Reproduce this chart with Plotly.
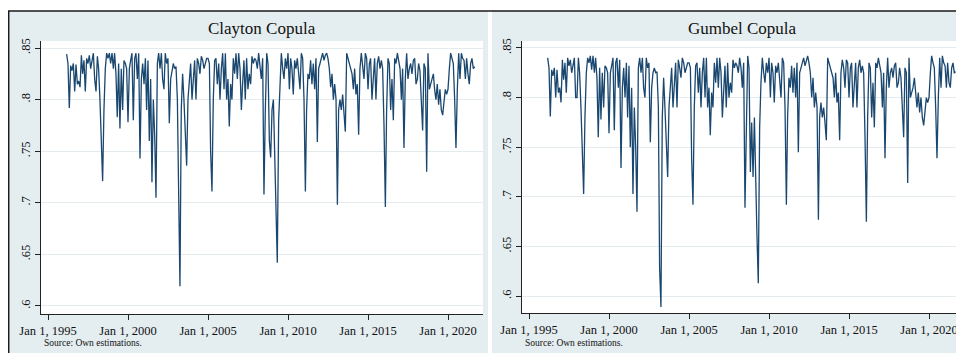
import plotly.graph_objects as go
import pandas as pd

# ---------------- data (monthly) ----------------
start_month = "1996-03-01"

clayton = [
    0.844, 0.835, 0.792, 0.833, 0.828, 0.835, 0.808, 0.834, 0.815, 0.818,                # 1996 (Mar-Dec)
    0.812, 0.843, 0.825, 0.838, 0.808, 0.840, 0.835, 0.843, 0.830, 0.838, 0.845, 0.820,  # 1997
    0.808, 0.842, 0.830, 0.800, 0.760, 0.721, 0.790, 0.830, 0.845, 0.840, 0.845, 0.835,  # 1998
    0.845, 0.830, 0.845, 0.825, 0.783, 0.835, 0.772, 0.830, 0.790, 0.838, 0.835, 0.830,  # 1999
    0.778, 0.830, 0.838, 0.845, 0.780, 0.840, 0.845, 0.820, 0.845, 0.743, 0.820, 0.835,  # 2000
    0.815, 0.840, 0.790, 0.838, 0.760, 0.820, 0.720, 0.800, 0.765, 0.705, 0.835, 0.845,  # 2001
    0.830, 0.845, 0.820, 0.810, 0.845, 0.835, 0.840, 0.777, 0.820, 0.830, 0.835, 0.830,  # 2002
    0.832, 0.800, 0.680, 0.619, 0.790, 0.825, 0.800, 0.760, 0.736, 0.800, 0.820, 0.835,  # 2003
    0.800, 0.820, 0.838, 0.800, 0.840, 0.835, 0.825, 0.842, 0.838, 0.830, 0.835, 0.840,  # 2004
    0.840, 0.835, 0.750, 0.711, 0.800, 0.838, 0.840, 0.815, 0.835, 0.800, 0.830, 0.845,  # 2005
    0.810, 0.845, 0.800, 0.820, 0.774, 0.815, 0.800, 0.840, 0.825, 0.845, 0.820, 0.845,  # 2006
    0.830, 0.790, 0.815, 0.838, 0.800, 0.840, 0.810, 0.825, 0.815, 0.842, 0.835, 0.840,  # 2007
    0.838, 0.830, 0.845, 0.835, 0.820, 0.840, 0.708, 0.790, 0.845, 0.835, 0.760, 0.744,  # 2008
    0.790, 0.800, 0.740, 0.690, 0.642, 0.780, 0.820, 0.845, 0.830, 0.820, 0.840, 0.830,  # 2009
    0.845, 0.810, 0.840, 0.830, 0.805, 0.838, 0.830, 0.840, 0.825, 0.810, 0.845, 0.840,  # 2010
    0.800, 0.711, 0.790, 0.825, 0.820, 0.838, 0.815, 0.835, 0.810, 0.840, 0.759, 0.830,  # 2011
    0.835, 0.840, 0.845, 0.838, 0.843, 0.845, 0.840, 0.830, 0.812, 0.825, 0.800, 0.815,  # 2012
    0.800, 0.698, 0.790, 0.800, 0.790, 0.805, 0.785, 0.769, 0.845, 0.840, 0.835, 0.830,  # 2013
    0.825, 0.810, 0.830, 0.805, 0.815, 0.766, 0.830, 0.845, 0.835, 0.820, 0.845, 0.840,  # 2014
    0.810, 0.835, 0.840, 0.800, 0.820, 0.840, 0.800, 0.835, 0.842, 0.830, 0.838, 0.830,  # 2015
    0.775, 0.696, 0.790, 0.840, 0.835, 0.790, 0.820, 0.780, 0.840, 0.835, 0.845, 0.838,  # 2016
    0.830, 0.800, 0.830, 0.753, 0.820, 0.845, 0.820, 0.830, 0.835, 0.825, 0.838, 0.840,  # 2017
    0.815, 0.820, 0.835, 0.828, 0.800, 0.770, 0.835, 0.830, 0.730, 0.845, 0.810, 0.815,  # 2018
    0.818, 0.825, 0.810, 0.800, 0.815, 0.795, 0.810, 0.790, 0.785, 0.800, 0.810, 0.805,  # 2019
    0.810, 0.830, 0.845, 0.840, 0.835, 0.800, 0.753, 0.810, 0.845, 0.820, 0.845, 0.840,  # 2020
    0.838, 0.820, 0.840, 0.825, 0.815, 0.835, 0.840, 0.830, 0.832,                       # 2021 (Jan-Sep)
]

gumbel = [
    0.840, 0.830, 0.781, 0.828, 0.822, 0.830, 0.800, 0.828, 0.805, 0.810,                # 1996 (Mar-Dec)
    0.795, 0.838, 0.818, 0.835, 0.805, 0.840, 0.832, 0.838, 0.825, 0.835, 0.840, 0.800,  # 1997
    0.800, 0.840, 0.825, 0.790, 0.750, 0.703, 0.780, 0.825, 0.840, 0.835, 0.842, 0.828,  # 1998
    0.842, 0.825, 0.840, 0.820, 0.760, 0.830, 0.778, 0.825, 0.790, 0.832, 0.830, 0.825,  # 1999
    0.764, 0.825, 0.832, 0.840, 0.767, 0.835, 0.840, 0.810, 0.838, 0.729, 0.810, 0.830,  # 2000
    0.800, 0.835, 0.780, 0.832, 0.750, 0.810, 0.703, 0.790, 0.750, 0.685, 0.830, 0.840,  # 2001
    0.825, 0.840, 0.810, 0.800, 0.840, 0.830, 0.835, 0.755, 0.810, 0.825, 0.830, 0.825,  # 2002
    0.826, 0.790, 0.629, 0.589, 0.780, 0.820, 0.790, 0.750, 0.720, 0.790, 0.815, 0.830,  # 2003
    0.790, 0.810, 0.835, 0.790, 0.838, 0.830, 0.820, 0.840, 0.835, 0.825, 0.830, 0.835,  # 2004
    0.835, 0.830, 0.740, 0.692, 0.790, 0.832, 0.835, 0.805, 0.830, 0.790, 0.825, 0.840,  # 2005
    0.800, 0.840, 0.790, 0.810, 0.762, 0.805, 0.790, 0.835, 0.815, 0.840, 0.810, 0.840,  # 2006
    0.825, 0.780, 0.805, 0.832, 0.790, 0.835, 0.800, 0.815, 0.805, 0.838, 0.830, 0.835,  # 2007
    0.832, 0.825, 0.840, 0.830, 0.810, 0.835, 0.689, 0.780, 0.842, 0.830, 0.725, 0.775,  # 2008
    0.720, 0.780, 0.700, 0.660, 0.613, 0.770, 0.815, 0.840, 0.825, 0.815, 0.835, 0.825,  # 2009
    0.840, 0.800, 0.835, 0.825, 0.795, 0.832, 0.825, 0.835, 0.818, 0.800, 0.840, 0.835,  # 2010
    0.790, 0.692, 0.780, 0.820, 0.810, 0.832, 0.805, 0.830, 0.800, 0.835, 0.745, 0.825,  # 2011
    0.830, 0.835, 0.840, 0.832, 0.838, 0.842, 0.835, 0.825, 0.800, 0.820, 0.790, 0.805,  # 2012
    0.790, 0.677, 0.780, 0.795, 0.780, 0.790, 0.775, 0.757, 0.840, 0.835, 0.830, 0.825,  # 2013
    0.820, 0.800, 0.825, 0.795, 0.805, 0.757, 0.825, 0.838, 0.830, 0.810, 0.838, 0.835,  # 2014
    0.800, 0.830, 0.835, 0.790, 0.810, 0.835, 0.790, 0.830, 0.838, 0.825, 0.832, 0.825,  # 2015
    0.760, 0.675, 0.780, 0.835, 0.830, 0.780, 0.815, 0.770, 0.835, 0.830, 0.840, 0.832,  # 2016
    0.825, 0.790, 0.825, 0.739, 0.810, 0.840, 0.810, 0.825, 0.830, 0.820, 0.832, 0.835,  # 2017
    0.810, 0.815, 0.830, 0.820, 0.790, 0.760, 0.830, 0.825, 0.714, 0.840, 0.800, 0.805,  # 2018
    0.810, 0.820, 0.800, 0.790, 0.805, 0.785, 0.800, 0.780, 0.772, 0.785, 0.800, 0.795,  # 2019
    0.800, 0.825, 0.842, 0.835, 0.830, 0.790, 0.739, 0.800, 0.840, 0.810, 0.842, 0.835,  # 2020
    0.832, 0.810, 0.835, 0.815, 0.810, 0.830, 0.835, 0.825, 0.826,                       # 2021 (Jan-Sep)
]

panel_titles = ["Clayton Copula", "Gumbel Copula"]
x_tick_years = [1995, 2000, 2005, 2010, 2015, 2020]
x_tick_labels = ["Jan 1, 1995", "Jan 1, 2000", "Jan 1, 2005", "Jan 1, 2010", "Jan 1, 2015", "Jan 1, 2020"]
y_tick_vals = [0.6, 0.65, 0.7, 0.75, 0.8, 0.85]
y_tick_labels = [".6", ".65", ".7", ".75", ".8", ".85"]
source_note = "Source: Own estimations."

# ---------------- styling ----------------
# The page body has an 8px margin, so the figure is 8px smaller each way and
# all reference pixel positions are shifted by -8 px.
OFF = 8
W, H = 964 - OFF, 353 - OFF
BG = "#e4edf0"
GRID = "#e3ebee"
LINE = "#1a476f"
SERIF = "Liberation Serif, Times New Roman, serif"


def px(x):
    return (x - OFF) / W


def py(y):
    return 1 - (y - OFF) / H


x_tick_dates = [f"{y}-01-01" for y in x_tick_years]

fig = go.Figure()

dates_c = pd.date_range(start_month, periods=len(clayton), freq="MS")
dates_g = pd.date_range(start_month, periods=len(gumbel), freq="MS")

fig.add_trace(go.Scatter(x=dates_c, y=clayton, mode="lines",
                         line=dict(color=LINE, width=1.3), xaxis="x", yaxis="y",
                         showlegend=False))
fig.add_trace(go.Scatter(x=dates_g, y=gumbel, mode="lines",
                         line=dict(color=LINE, width=1.3), xaxis="x2", yaxis="y2",
                         showlegend=False))

plot_boxes = [
    # (x0, x1, ytop, ybottom) in reference pixels
    (41, 483, 41, 314),
    (522, 962, 41, 313),
]
yranges = [[0.5922, 0.8568], [0.5830, 0.8570]]
xranges = [["1994-07-25", "2022-03-10"], ["1994-07-25", "2022-01-23"]]

common_x = dict(
    type="date", showgrid=False, zeroline=False, showline=True, linecolor="#222222",
    linewidth=1, ticks="outside", ticklen=5, tickcolor="#222222", tickwidth=1,
    tickmode="array", tickvals=x_tick_dates, ticktext=x_tick_labels,
    tickfont=dict(family=SERIF, size=12.5, color="#111111"), autorange=False,
    automargin=False,
)
common_y = dict(
    showgrid=True, gridcolor=GRID, gridwidth=1, zeroline=False, showline=True,
    linecolor="#222222", linewidth=1, ticks="outside", ticklen=5, tickcolor="#222222",
    tickwidth=1, tickmode="array", tickvals=y_tick_vals, ticktext=y_tick_labels,
    tickangle=-90, tickfont=dict(family=SERIF, size=12.5, color="#111111"), autorange=False,
    automargin=False,
)

layout_axes = {}
for i, (x0, x1, yt, yb) in enumerate(plot_boxes):
    sfx = "" if i == 0 else str(i + 1)
    layout_axes["xaxis" + sfx] = dict(common_x, domain=[px(x0), min(1, px(x1))],
                                      anchor="y" + sfx, range=xranges[i])
    layout_axes["yaxis" + sfx] = dict(common_y, domain=[py(yb), py(yt)],
                                      anchor="x" + sfx, range=yranges[i])

shapes = [
    dict(type="rect", xref="paper", yref="paper", x0=px(8), x1=px(488), y0=0, y1=py(11),
         fillcolor=BG, line=dict(width=0), layer="below"),
    dict(type="rect", xref="paper", yref="paper", x0=px(492), x1=1, y0=0, y1=py(11),
         fillcolor=BG, line=dict(width=0), layer="below"),
]
for (x0, x1, yt, yb) in plot_boxes:
    shapes.append(dict(type="rect", xref="paper", yref="paper", x0=px(x0), x1=min(1, px(x1)),
                       y0=py(yb), y1=py(yt), fillcolor="white", line=dict(width=0),
                       layer="below"))
shapes += [
    dict(type="line", xref="paper", yref="paper", x0=px(8), x1=1, y0=py(11), y1=py(11),
         line=dict(color="#1a1a1a", width=1.5)),
    dict(type="line", xref="paper", yref="paper", x0=px(8.7), x1=px(8.7), y0=0, y1=py(11),
         line=dict(color="#1a1a1a", width=1.5)),
]

annotations = []
for i, (x0, x1, yt, yb) in enumerate(plot_boxes):
    annotations.append(dict(text=panel_titles[i], xref="paper", yref="paper",
                            x=px((x0 + x1) / 2), y=py(28), xanchor="center", yanchor="middle",
                            showarrow=False, font=dict(family=SERIF, size=17, color="#111111")))
    annotations.append(dict(text=source_note, xref="paper", yref="paper",
                            x=px(x0 + 1), y=py(343), xanchor="left", yanchor="middle",
                            showarrow=False, font=dict(family=SERIF, size=9.5, color="#111111")))

fig.update_layout(
    width=W, height=H, margin=dict(l=0, r=0, t=0, b=0, autoexpand=False),
    paper_bgcolor="white", plot_bgcolor="white",
    shapes=shapes, annotations=annotations, showlegend=False,
    **layout_axes,
)

fig.write_html("out.html", config={"displayModeBar": False})
